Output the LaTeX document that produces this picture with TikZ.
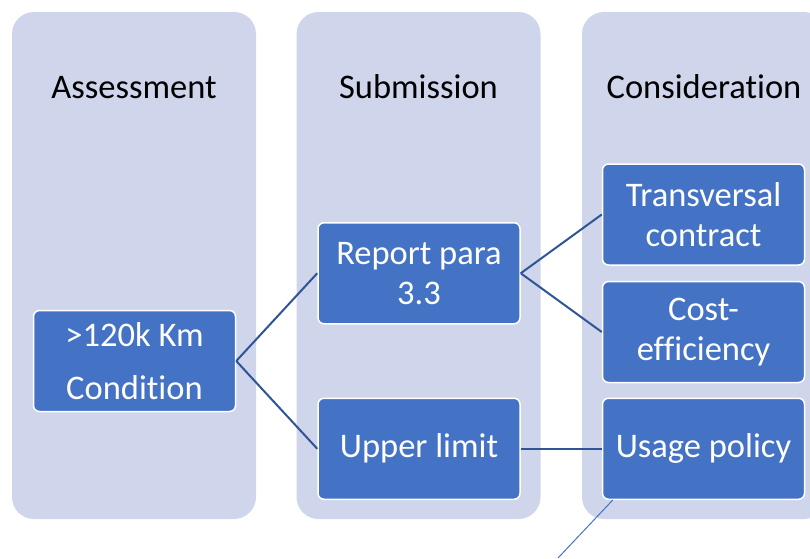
\documentclass[tikz,border=0pt]{standalone}
\usepackage{fontspec}
\setmainfont{Carlito}[Ligatures=NoCommon]
\usepackage{xcolor}
\usepackage{tikz}
\definecolor{lanefill}{HTML}{CFD5EA}
\definecolor{boxblue}{HTML}{4472C4}
\definecolor{linkblue}{HTML}{2F5597}

\begin{document}
\begin{tikzpicture}[
  x=1pt, y=1pt,
  lane/.style={rectangle, rounded corners=22pt, fill=lanefill, minimum width=244pt, minimum height=507pt, inner sep=0pt},
  head/.style={font=\fontsize{34.5}{40}\selectfont, anchor=base, inner sep=0pt},
  box/.style={rectangle, rounded corners=6pt, fill=boxblue, draw=white, line width=1.5pt, text=white, align=center, minimum width=202pt, minimum height=101pt, inner sep=0pt, font=\fontsize{34.5}{40}\selectfont},
  every child node/.style={box},
  grow'=right,
  level distance=284.5pt,
  level 1/.style={sibling distance=175.5pt},
  level 2/.style={sibling distance=117.5pt},
  edge from parent/.style={draw=linkblue, line width=2pt},
  edge from parent path={(\tikzparentnode.east) -- (\tikzchildnode.west)}
]
  \clip (0,0) rectangle (810,-558);
  \useasboundingbox (0,0) rectangle (810,-558);

  \node[lane] (laneA) at (134,-265.5) {};
  \node[lane] (laneB) at (418.5,-265.5) {};
  \node[lane] (laneC) at (704,-265.5) {};
  \node[head] (headA) at (134,-98) {Assessment};
  \node[head] (headB) at (418.5,-98) {Submission};
  \node[head] (headC) at (704,-98) {Consideration};

  \node[box] (cond) at (134.5,-361) {>120k Km\\[13pt]Condition}
    child {node (report) {Report para\\3.3}
      child {node (transv) {Transversal\\contract}}
      child {node (cost) {Cost-\\efficiency}}
    }
    child {node (upper) {Upper limit}
      child {node (usage) {Usage policy}}
    };

  \coordinate (tail) at (558,-558);
  \draw[boxblue, line width=1pt] ([xshift=11pt]usage.south west) -- (tail);
\end{tikzpicture}
\end{document}
